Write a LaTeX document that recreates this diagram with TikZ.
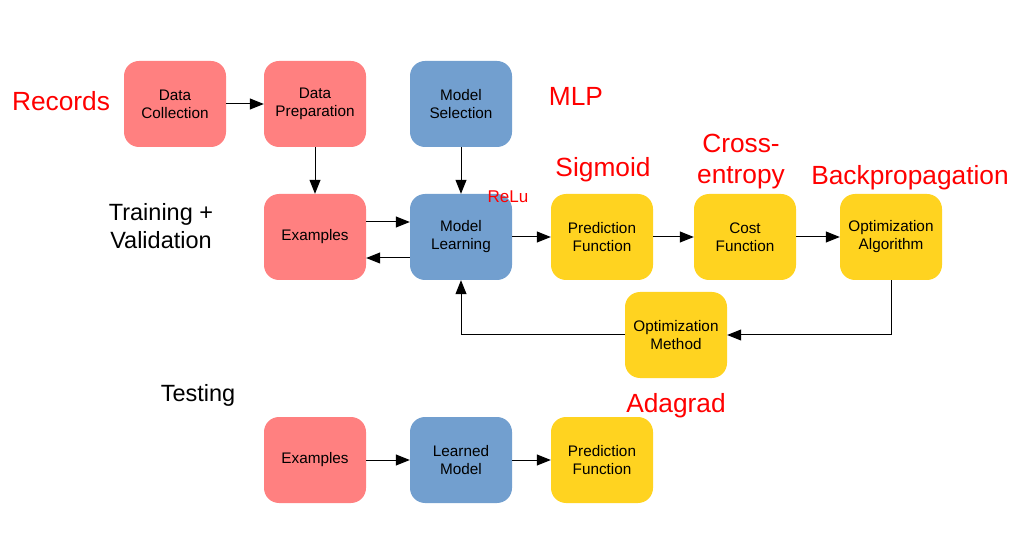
\documentclass[tikz,border=0pt]{standalone}
\usepackage{fontspec}
\setmainfont{Liberation Sans}
\usetikzlibrary{arrows.meta}
\definecolor{boxred}{HTML}{FF8080}
\definecolor{boxblue}{HTML}{729FCF}
\definecolor{boxyellow}{HTML}{FFD320}
\definecolor{labred}{HTML}{FF0000}
\begin{document}
\begin{tikzpicture}[x=1pt,y=-1pt,
  box/.style={rounded corners=15pt, minimum width=102pt, minimum height=86pt, inner sep=0pt,
    align=center, font=\fontsize{15.3}{18}\selectfont, text=black},
  rbox/.style={box, fill=boxred},
  bbox/.style={box, fill=boxblue},
  ybox/.style={box, fill=boxyellow},
  redlab/.style={text=labred, font=\fontsize{26.3}{31}\selectfont, align=center, inner sep=0pt},
  blacklab/.style={text=black, font=\fontsize{23.5}{28}\selectfont, align=center, inner sep=0pt},
  conn/.style={line width=1pt, -{Triangle[length=14pt,width=11pt]}},
]
\useasboundingbox (0,0) rectangle (1021,556);
% training boxes
\node[rbox] (dc) at (175,104) {Data\\Collection};
\node[rbox] (dp) at (315,104) {Data\\Preparation};
\node[bbox] (ms) at (461,104) {Model\\Selection};
\node[rbox] (ex) at (315,237) {Examples};
\node[bbox] (ml) at (461,237) {Model\\Learning};
\node[ybox] (pf) at (602,237) {Prediction\\Function};
\node[ybox] (cf) at (745,237) {Cost\\Function};
\node[ybox] (oa) at (891,237) {Optimization\\Algorithm};
\node[ybox] (om) at (676,335) {Optimization\\Method};
% testing boxes
\node[rbox] (ex2) at (315,460) {Examples};
\node[bbox] (lm) at (461,460) {Learned\\Model};
\node[ybox] (pf2) at (602,460) {Prediction\\Function};
% labels
\node[redlab, anchor=base] (rec) at (61,111) {Records};
\node[redlab, anchor=base] (mlp) at (576,106) {MLP};
\node[redlab, anchor=base] (sig) at (603,177) {Sigmoid};
\node[redlab, anchor=base] (ce) at (741,184) {Cross-\\entropy};
\node[redlab, anchor=base] (bp) at (910,185) {Backpropagation};
\node[redlab, anchor=base] (ada) at (676,412) {Adagrad};
\node[text=labred, font=\fontsize{17}{20}\selectfont, inner sep=0pt, anchor=base] (relu) at (508,203) {ReLu};
\node[blacklab, anchor=base] (tv) at (161,249) {Training +\\Validation};
\node[blacklab, anchor=base] (test) at (198,401) {Testing};
% connectors
\draw[conn] (dc.east) -- (dp.west);
\draw[conn] (dp.south) -- (ex.north);
\draw[conn] (ms.south) -- (ml.north);
\draw[conn] ([yshift=15pt]ex.east) -- ([yshift=15pt]ml.west);
\draw[conn] ([yshift=-21pt]ml.west) -- ([yshift=-21pt]ex.east);
\draw[conn] (ml.east) -- (pf.west);
\draw[conn] (pf.east) -- (cf.west);
\draw[conn] (cf.east) -- (oa.west);
\draw[conn] (oa.south) |- (om.east);
\draw[conn] (om.west) -| (ml.south);
\draw[conn] (ex2.east) -- (lm.west);
\draw[conn] (lm.east) -- (pf2.west);
\end{tikzpicture}
\end{document}
